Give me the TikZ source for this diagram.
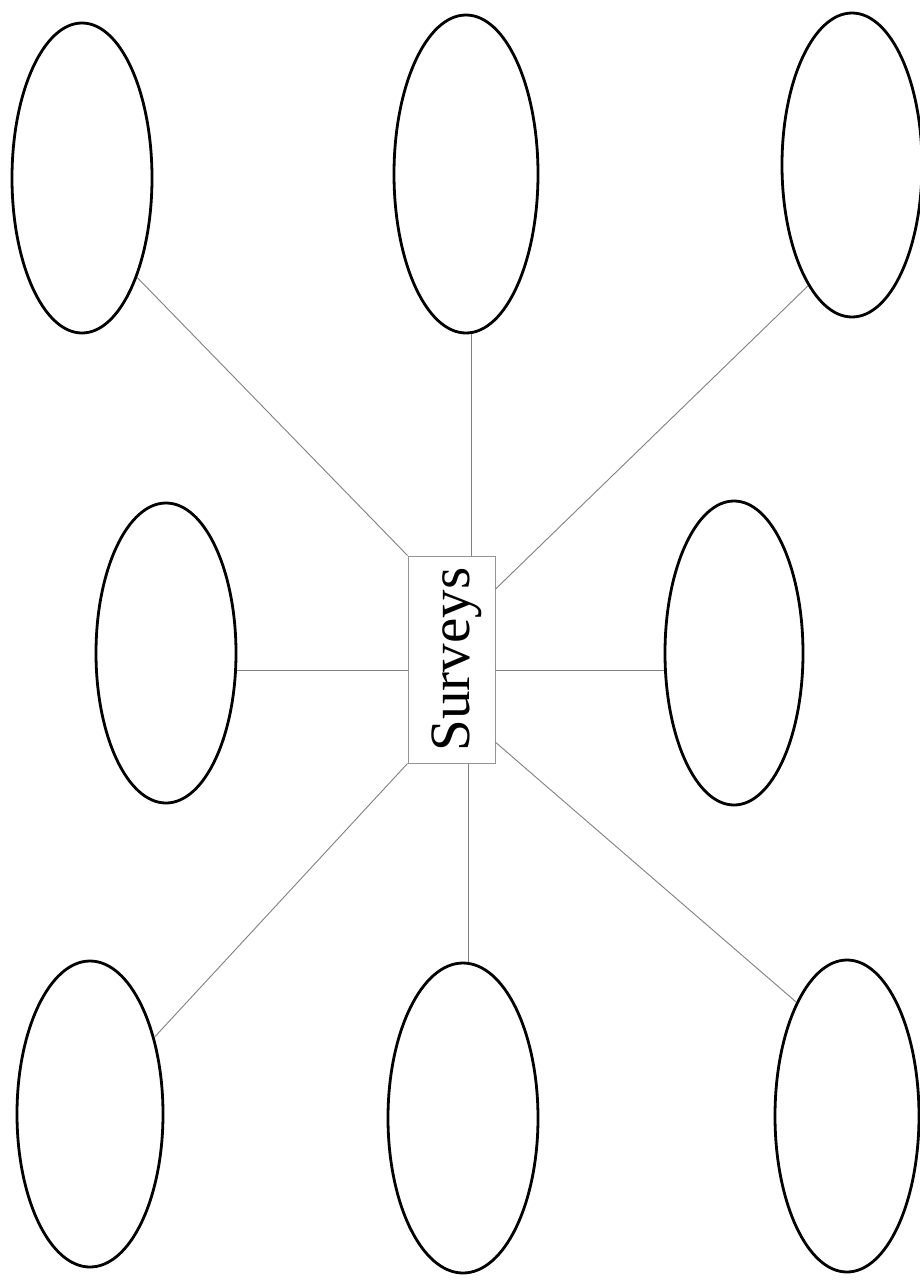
\documentclass[tikz,border=0pt]{standalone}
\usepackage{fontspec}
\setmainfont{Liberation Serif}
\usetikzlibrary{shapes.geometric}

\tikzset{
  bubble/.style={ellipse, draw=black, line width=2.8pt, inner sep=0pt},
  hub/.style={draw=gray!85, line width=1pt, inner sep=0pt,
    minimum width=87pt, minimum height=207pt, font=\fontsize{57}{60}\selectfont},
  spoke/.style={draw=gray, line width=0.9pt}
}

\begin{document}
\begin{tikzpicture}[x=1pt,y=-1pt]
\useasboundingbox[fill=white] (0,0) rectangle (920,1280);

% centre box
\node[hub] (c) at (451.5,659.5) {\rotatebox{90}{\raisebox{-5pt}[\height][\depth]{Surveys}}};

% top row
\node[bubble, minimum width=140pt, minimum height=310pt] (tl) at (82,178) {};
\node[bubble, minimum width=144pt, minimum height=318pt] (tm) at (466,174) {};
\node[bubble, minimum width=140pt, minimum height=304pt] (tr) at (852,165) {};

% middle row
\node[bubble, minimum width=140pt, minimum height=300pt] (ml) at (166,653) {};
\node[bubble, minimum width=138pt, minimum height=304pt] (mr) at (734,653) {};

% bottom row
\node[bubble, minimum width=146pt, minimum height=306pt] (bl) at (90,1114) {};
\node[bubble, minimum width=150pt, minimum height=310pt] (bm) at (463,1118) {};
\node[bubble, minimum width=144pt, minimum height=312pt] (br) at (847,1116) {};

% spokes
\draw[spoke] (c.north west) -- (tl.-61);
\draw[spoke] (tm.-88 |- c.north) -- (tm.-88);
\draw[spoke] (c.58.7) -- (tr.-110);
\draw[spoke] (ml.-14 -| c.west) -- (ml.-14);
\draw[spoke] (mr.-166 -| c.east) -- (mr.-166);
\draw[spoke] (c.south west) -- (bl.50);
\draw[spoke] (bm.88 |- c.south) -- (bm.88);
\draw[spoke] (c.-62) -- (br.114);
\end{tikzpicture}
\end{document}
